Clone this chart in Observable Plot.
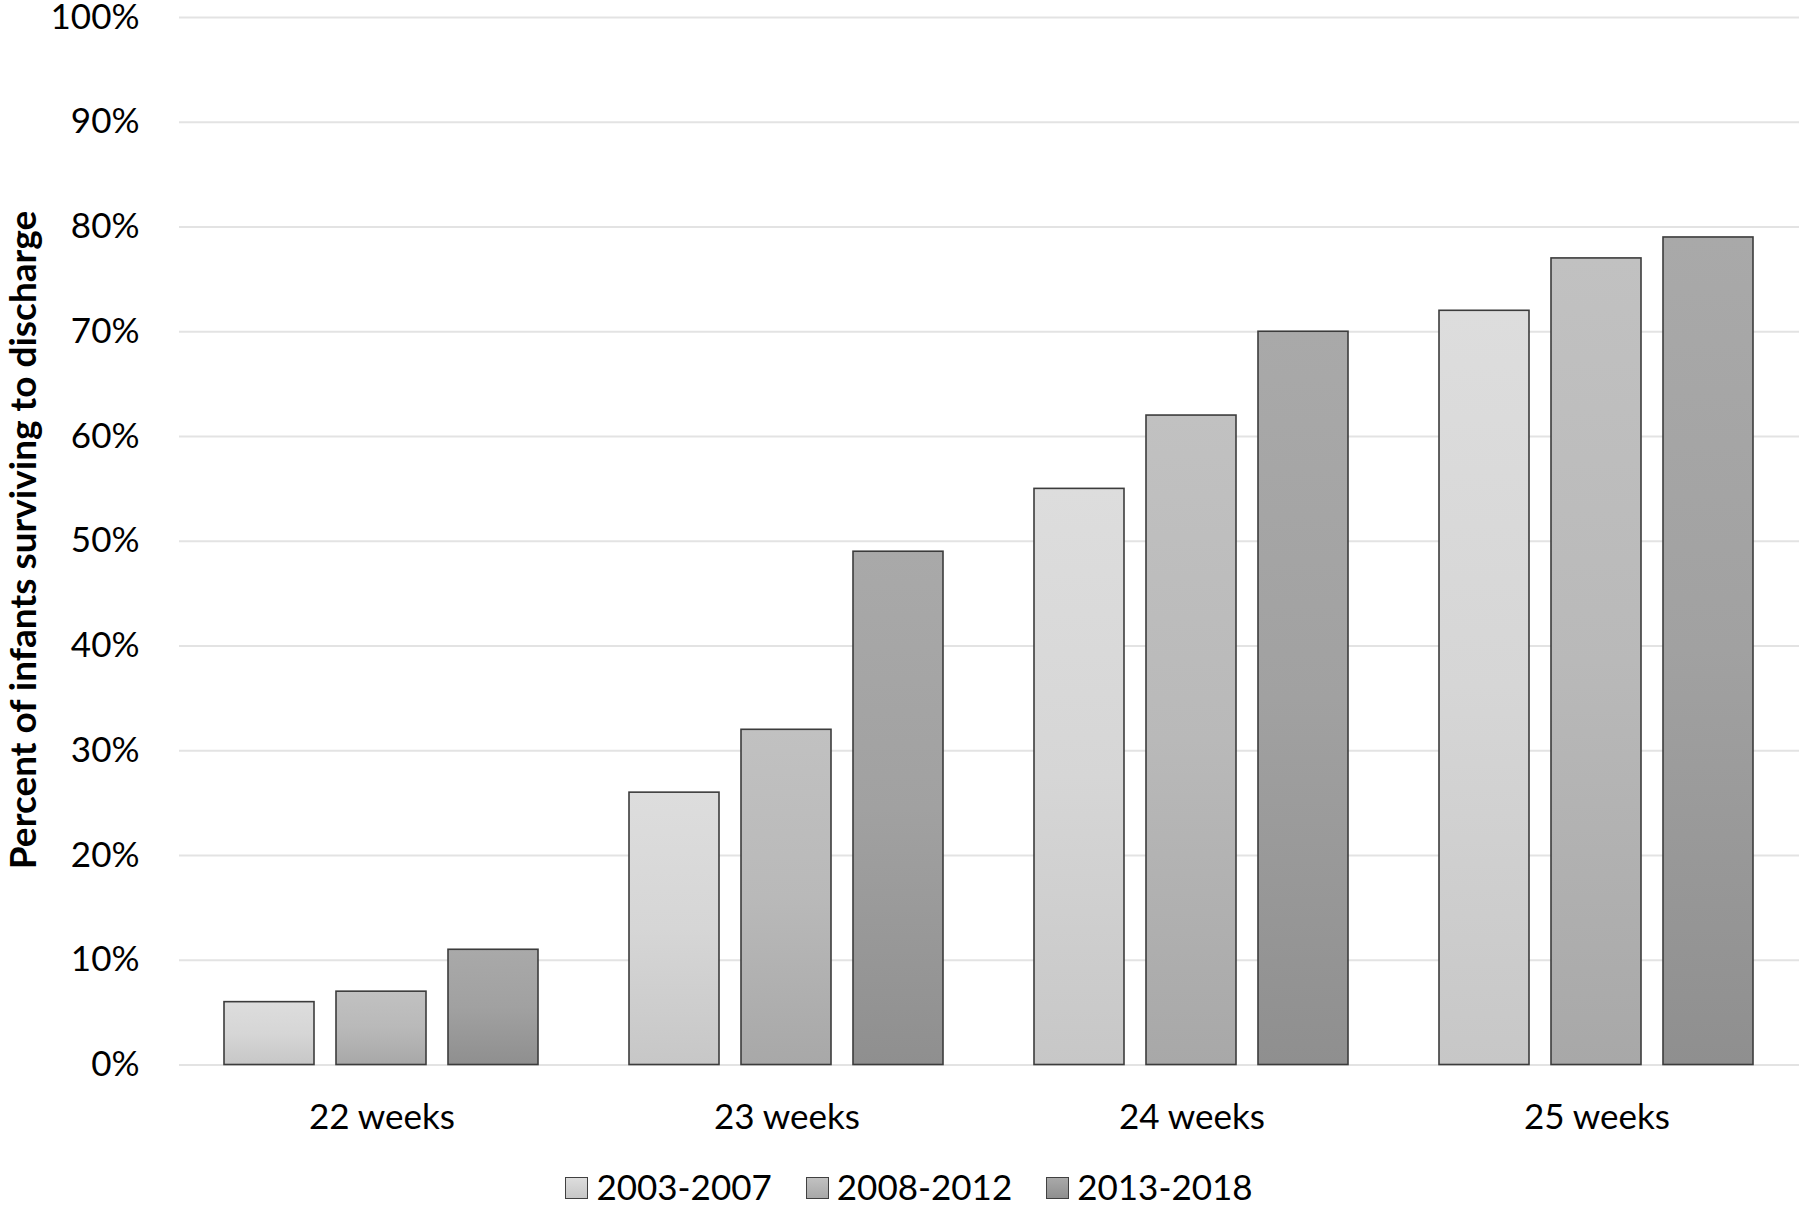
<!DOCTYPE html>
<html>
<head>
<meta charset="utf-8">
<script src="https://cdn.jsdelivr.net/npm/d3@7"></script>
<script src="https://cdn.jsdelivr.net/npm/@observablehq/plot@0.6"></script>
<style>
  html, body { margin: 0; padding: 0; background: #fff; }
  #wrap { position: relative; width: 1800px; font-family: Lato, "Open Sans", sans-serif; color: #000; }
  #chart svg { display: block; }
  #ylabel { position: absolute; left: 21px; top: 540px; transform: translate(-50%, -50%) rotate(-90deg);
            white-space: nowrap; font-weight: bold; font-size: 37px; line-height: 1; }
  #legend { display: flex; justify-content: center; align-items: center; font-size: 35px; line-height: 36px; height: 36px; margin-left: 18px; }
  .item { display: flex; align-items: center; margin: 0 17px; }
  .sw { width: 23px; height: 22px; border: 1.5px solid #404040; margin-right: 8px; box-sizing: border-box; position: relative; top: 2px; }
</style>
</head>
<body>
<div id="wrap">
  <div id="chart"></div>
  <div id="legend"></div>
  <div id="ylabel"></div>
</div>
<script>
const weeks = ["22 weeks", "23 weeks", "24 weeks", "25 weeks"];
const series = ["2003-2007", "2008-2012", "2013-2018"];
const values2003 = [6, 26, 55, 72];
const values2008 = [7, 32, 62, 77];
const values2013 = [11, 49, 70, 79];
const yTicks = [0, 10, 20, 30, 40, 50, 60, 70, 80, 90, 100];
const yTitle = "Percent of infants surviving to discharge";

const seriesValues = [values2003, values2008, values2013];
const data = [];
weeks.forEach((w, i) => series.forEach((s, j) => data.push({week: w, series: s, value: seriesValues[j][i]})));

const gradIds = ["g0", "g1", "g2"];
const gradStops = [["#dddddd", "#d6d6d6", "#c7c7c7"], ["#c1c1c1", "#b9b9b9", "#a8a8a8"], ["#a9a9a9", "#a1a1a1", "#8f8f8f"]];

const chart = Plot.plot({
  width: 1800,
  height: 1168,
  marginTop: 17,
  marginBottom: 103.5,
  marginLeft: 178,
  marginRight: 0,
  style: {fontFamily: "Lato, 'Open Sans', sans-serif", fontSize: "35px", color: "#000", background: "#fff"},
  fx: {domain: weeks, padding: 0, label: null, axis: "bottom", tickSize: 0, tickPadding: 39},
  x: {domain: series, paddingInner: 0.194, paddingOuter: 0.398, axis: null},
  y: {domain: [0, 100], axis: null},
  color: {domain: series, range: gradIds.map(id => `url(#${id})`)},
  marks: [
    Plot.gridY(yTicks, {stroke: "#e3e3e3", strokeOpacity: 1, strokeWidth: 2}),
    Plot.axisY(yTicks, {tickSize: 0, tickPadding: 40, tickFormat: d => d + "%", label: null}),
    Plot.barY(data, {fx: "week", x: "series", y: "value", fill: "series", stroke: "#3c3c3c", strokeWidth: 1.6})
  ]
});

// gradient definitions
const NS = "http://www.w3.org/2000/svg";
const defs = document.createElementNS(NS, "defs");
gradIds.forEach((id, k) => {
  const lg = document.createElementNS(NS, "linearGradient");
  lg.setAttribute("id", id);
  lg.setAttribute("x1", "0"); lg.setAttribute("y1", "0");
  lg.setAttribute("x2", "0"); lg.setAttribute("y2", "1");
  [0, 0.5, 1].forEach((o, m) => {
    const st = document.createElementNS(NS, "stop");
    st.setAttribute("offset", o);
    st.setAttribute("stop-color", gradStops[k][m]);
    lg.appendChild(st);
  });
  defs.appendChild(lg);
});
chart.insertBefore(defs, chart.firstChild);
document.getElementById("chart").appendChild(chart);

// legend
const legend = document.getElementById("legend");
series.forEach((s, k) => {
  const item = document.createElement("div");
  item.className = "item";
  const sw = document.createElement("div");
  sw.className = "sw";
  sw.style.background = `linear-gradient(${gradStops[k][0]}, ${gradStops[k][2]})`;
  const t = document.createElement("span");
  t.textContent = s;
  item.appendChild(sw); item.appendChild(t);
  legend.appendChild(item);
});
document.getElementById("ylabel").textContent = yTitle;
</script>
</body>
</html>
